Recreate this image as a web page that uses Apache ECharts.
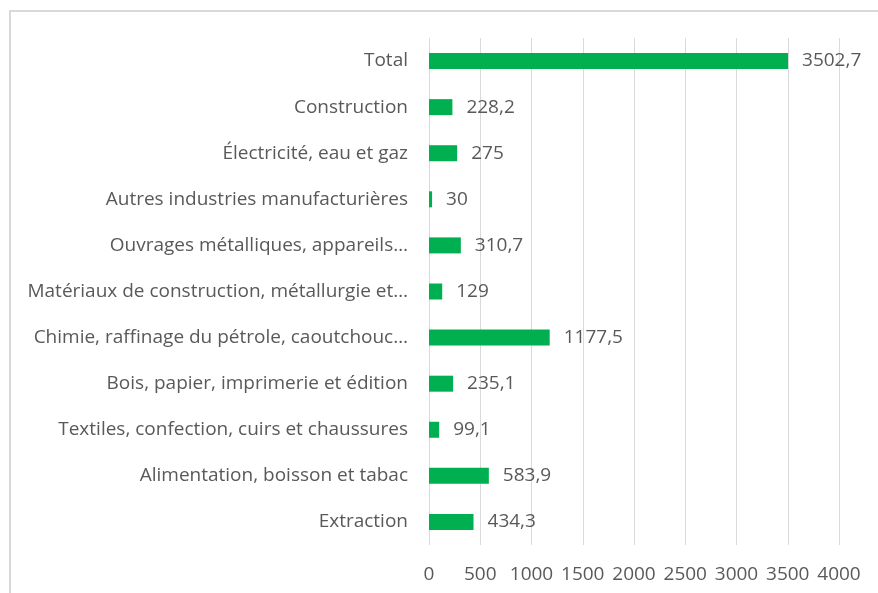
<!DOCTYPE html>
<html>
<head>
<meta charset="utf-8">
<script src="https://cdn.jsdelivr.net/npm/echarts@6/dist/echarts.min.js"></script>
<style>
  html, body { margin: 0; padding: 0; background: #fff; }
  #chart { width: 878px; height: 593px; position: relative; }
  .frame { position: absolute; left: 9px; top: 10px; width: 900px; height: 620px; border: 2px solid #d9d9d9; box-sizing: border-box; }
</style>
</head>
<body>
<div class="frame"></div>
<div id="chart"></div>
<script>
// catégories, de bas en haut
const categories = [
  'Extraction',
  'Alimentation, boisson et tabac',
  'Textiles, confection, cuirs et chaussures',
  'Bois, papier, imprimerie et édition',
  'Chimie, raffinage du pétrole, caoutchouc…',
  'Matériaux de construction, métallurgie et…',
  'Ouvrages métalliques, appareils…',
  'Autres industries manufacturières',
  'Électricité, eau et gaz',
  'Construction',
  'Total'
]
const values = [434.3, 583.9, 99.1, 235.1, 1177.5, 129, 310.7, 30, 275, 228.2, 3502.7]
const xTicks = [0, 500, 1000, 1500, 2000, 2500, 3000, 3500, 4000]

const chart = echarts.init(document.getElementById('chart'))
const font = 'Open Sans'
const size = 19

chart.setOption({
  animation: false,
  grid: { left: 429, right: 39, top: 38, bottom: 48 },
  xAxis: {
    type: 'value',
    min: xTicks[0],
    max: xTicks[xTicks.length - 1],
    interval: 500,
    axisLine: { show: false },
    axisTick: { show: false },
    splitLine: { lineStyle: { color: '#d9d9d9', width: 1 } },
    axisLabel: {
      color: '#595959', fontSize: size, fontFamily: font, margin: 20,
      formatter: v => String(v)
    }
  },
  yAxis: {
    type: 'category',
    data: categories,
    axisLine: { show: false },
    axisTick: { show: false },
    axisLabel: { color: '#595959', fontSize: size, fontFamily: font, margin: 21 }
  },
  series: [{
    type: 'bar',
    data: values,
    barWidth: 16,
    itemStyle: { color: '#00b050' },
    label: {
      show: true,
      position: 'right',
      distance: 14,
      color: '#595959',
      fontSize: size,
      fontFamily: font,
      formatter: p => String(p.value).replace('.', ',')
    }
  }]
})
</script>
</body>
</html>
